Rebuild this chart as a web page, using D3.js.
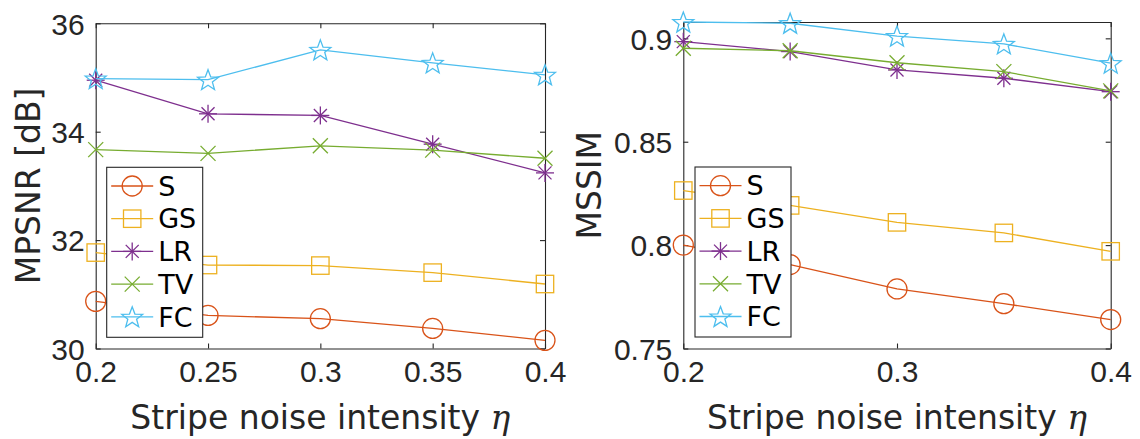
<!DOCTYPE html>
<html>
<head>
<meta charset="utf-8">
<script src="https://cdn.jsdelivr.net/npm/d3@7"></script>
<style>
  html, body { margin: 0; padding: 0; background: #fff; }
  svg { display: block; }
</style>
</head>
<body>
<svg id="chart" width="1140" height="439"></svg>
<script>
// Noise levels on the horizontal axis
const eta = [0.2, 0.25, 0.3, 0.35, 0.4];

// Method names (legend order)
const methods = ["S", "GS", "LR", "TV", "FC"];

// MPSNR [dB] per method
const psnrS  = [30.87, 30.61, 30.55, 30.37, 30.15];
const psnrGS = [31.77, 31.54, 31.53, 31.40, 31.19];
const psnrLR = [34.95, 34.33, 34.30, 33.77, 33.24];
const psnrTV = [33.67, 33.60, 33.74, 33.66, 33.51];
const psnrFC = [34.98, 34.96, 35.51, 35.27, 35.05];

// MSSIM per method
const ssimS  = [0.8000, 0.7906, 0.7788, 0.7717, 0.7640];
const ssimGS = [0.8264, 0.8192, 0.8110, 0.8059, 0.7970];
const ssimLR = [0.8984, 0.8936, 0.8847, 0.8807, 0.8742];
const ssimTV = [0.8952, 0.8940, 0.8882, 0.8839, 0.8746];
const ssimFC = [0.9079, 0.9073, 0.9011, 0.8973, 0.8880];

// Tick labels
const psnrXTicks = [0.2, 0.25, 0.3, 0.35, 0.4];
const psnrYTicks = [30, 32, 34, 36];
const ssimXTicks = [0.2, 0.3, 0.4];
const ssimYTicks = [0.75, 0.8, 0.85, 0.9];

const colors = {
  S: "#D95319", GS: "#EDB120", LR: "#7E2F8E", TV: "#77AC30", FC: "#4DBEEE"
};
const shapes = { S: "circle", GS: "square", LR: "asterisk", TV: "cross", FC: "star" };

const TICK_FONT = "'Liberation Sans', Arial, sans-serif";
const TEXT_FONT = "'DejaVu Sans', sans-serif";
const AXIS_COLOR = "#262626";

const svg = d3.select("#chart");

// Draws a marker centred at (0,0) inside group g
function drawMarker(g, shape, color) {
  const sw = 1.3;
  if (shape === "circle") {
    g.append("circle").attr("r", 10).attr("fill", "none")
      .attr("stroke", color).attr("stroke-width", sw);
  } else if (shape === "square") {
    g.append("rect").attr("x", -8.7).attr("y", -8.7).attr("width", 17.4).attr("height", 17.4)
      .attr("fill", "none").attr("stroke", color).attr("stroke-width", sw);
  } else if (shape === "asterisk") {
    const a = 9, d = 6.5;
    const segs = [[-a, 0, a, 0], [0, -a, 0, a], [-d, -d, d, d], [-d, d, d, -d]];
    segs.forEach(s => g.append("line").attr("x1", s[0]).attr("y1", s[1])
      .attr("x2", s[2]).attr("y2", s[3]).attr("stroke", color).attr("stroke-width", sw));
  } else if (shape === "cross") {
    const d = 7.5;
    [[-d, -d, d, d], [-d, d, d, -d]].forEach(s => g.append("line")
      .attr("x1", s[0]).attr("y1", s[1]).attr("x2", s[2]).attr("y2", s[3])
      .attr("stroke", color).attr("stroke-width", sw));
  } else if (shape === "star") {
    const R = 11, r = 4.6;
    const pts = d3.range(10).map(i => {
      const ang = -Math.PI / 2 + i * Math.PI / 5;
      const rr = i % 2 === 0 ? R : r;
      return [rr * Math.cos(ang), rr * Math.sin(ang) + 1];
    });
    g.append("polygon").attr("points", pts.map(p => p.join(",")).join(" "))
      .attr("fill", "none").attr("stroke", color).attr("stroke-width", sw)
      .attr("stroke-linejoin", "miter");
  }
}

function panel(cfg) {
  const x = d3.scaleLinear().domain([0.2, 0.4]).range([cfg.left, cfg.right]);
  const y = d3.scaleLinear().domain(cfg.yDomain).range([cfg.bottom, cfg.top]);
  const root = svg.append("g");

  // Axes: bottom/left with labels, top/right mirrored with inward ticks
  const tick = 5;
  const ax = root.append("g");
  const bottom = ax.append("g").attr("transform", `translate(0,${cfg.bottom})`)
    .call(d3.axisBottom(x).tickValues(cfg.xTicks).tickSizeInner(-tick).tickSizeOuter(0)
      .tickPadding(12).tickFormat(d3.format("~g")));
  const top = ax.append("g").attr("transform", `translate(0,${cfg.top})`)
    .call(d3.axisTop(x).tickValues(cfg.xTicks).tickSizeInner(-tick).tickSizeOuter(0)
      .tickFormat(""));
  const left = ax.append("g").attr("transform", `translate(${cfg.left},0)`)
    .call(d3.axisLeft(y).tickValues(cfg.yTicks).tickSizeInner(-tick).tickSizeOuter(0)
      .tickPadding(11).tickFormat(d3.format("~g")));
  const right = ax.append("g").attr("transform", `translate(${cfg.right},0)`)
    .call(d3.axisRight(y).tickValues(cfg.yTicks).tickSizeInner(-tick).tickSizeOuter(0)
      .tickFormat(""));
  [bottom, top, left, right].forEach(a => {
    a.select(".domain").attr("stroke", AXIS_COLOR).attr("stroke-width", 1.1);
    a.selectAll(".tick line").attr("stroke", AXIS_COLOR).attr("stroke-width", 1.1);
    a.selectAll("text").attr("fill", AXIS_COLOR).attr("font-size", 30)
      .attr("font-family", TICK_FONT);
  });
  bottom.selectAll("text").attr("dy", "0.71em");
  left.selectAll("text").attr("dy", "0.36em");

  // Series lines and markers
  const line = d3.line().x((d, i) => x(eta[i])).y(d => y(d));
  const plot = root.append("g");
  methods.forEach(m => {
    const vals = cfg.series[m];
    plot.append("path").datum(vals).attr("d", line).attr("fill", "none")
      .attr("stroke", colors[m]).attr("stroke-width", 1.3);
    vals.forEach((v, i) => {
      const g = plot.append("g").attr("transform", `translate(${x(eta[i])},${y(v)})`);
      drawMarker(g, shapes[m], colors[m]);
    });
  });

  // Axis titles
  const xl = root.append("text")
    .attr("x", (cfg.left + cfg.right) / 2).attr("y", 429)
    .attr("text-anchor", "middle").attr("font-family", TEXT_FONT).attr("font-size", 33)
    .attr("fill", AXIS_COLOR);
  xl.append("tspan").text("Stripe noise intensity ");
  xl.append("tspan").attr("font-family", "'DejaVu Serif', serif").attr("font-style", "italic")
    .text("η");
  root.append("text")
    .attr("transform", `translate(${cfg.yLabelX},${(cfg.top + cfg.bottom) / 2}) rotate(-90)`)
    .attr("text-anchor", "middle").attr("font-family", TEXT_FONT).attr("font-size", 33)
    .attr("fill", AXIS_COLOR).text(cfg.yLabel);

  // Legend
  const lg = root.append("g").attr("transform", `translate(${cfg.legend[0]},${cfg.legend[1]})`);
  lg.append("rect").attr("width", 96).attr("height", 170).attr("fill", "#fff")
    .attr("stroke", AXIS_COLOR).attr("stroke-width", 1.1);
  methods.forEach((m, i) => {
    const row = lg.append("g").attr("transform", `translate(0,${18.7 + i * 32.7})`);
    row.append("line").attr("x1", 4.5).attr("x2", 46.5).attr("y1", 0).attr("y2", 0)
      .attr("stroke", colors[m]).attr("stroke-width", 1.3);
    drawMarker(row.append("g").attr("transform", "translate(25.5,0)"), shapes[m], colors[m]);
    row.append("text").attr("x", 51.5).attr("y", 0).attr("dy", "0.36em")
      .attr("font-family", TEXT_FONT).attr("font-size", 27).attr("fill", "#000").text(m);
  });
}

panel({
  left: 95.7, right: 545, top: 23.3, bottom: 348.5,
  yDomain: [30, 36], xTicks: psnrXTicks, yTicks: psnrYTicks,
  series: { S: psnrS, GS: psnrGS, LR: psnrLR, TV: psnrTV, FC: psnrFC },
  yLabel: "MPSNR [dB]", yLabelX: 40, legend: [106.7, 167.3]
});

panel({
  left: 683.3, right: 1110.7, top: 22, bottom: 348.5,
  yDomain: [0.75, 0.9079], xTicks: ssimXTicks, yTicks: ssimYTicks,
  series: { S: ssimS, GS: ssimGS, LR: ssimLR, TV: ssimTV, FC: ssimFC },
  yLabel: "MSSIM", yLabelX: 601, legend: [695, 167]
});
</script>
</body>
</html>
